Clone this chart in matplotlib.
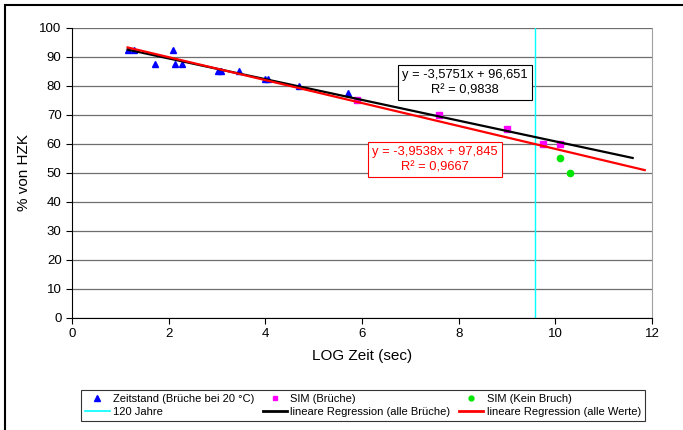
import matplotlib.pyplot as plt
from matplotlib.lines import Line2D
from matplotlib.patches import Rectangle

plt.rcParams['font.family'] = ['Liberation Sans', 'DejaVu Sans']

# Zeitstandversuche (Brüche bei 20 °C)
zeit_x = [1.15, 1.29, 1.72, 2.08, 2.14, 2.28, 3.03, 3.09, 3.45, 4.00, 4.06, 4.69, 5.71]
zeit_y = [92.5, 92.5, 87.5, 92.5, 87.5, 87.5, 85.0, 85.0, 85.0, 82.5, 82.5, 80.0, 77.5]

# SIM-Versuche mit Bruch
sim_x = [5.89, 7.59, 9.00, 9.74, 10.09]
sim_y = [75.0, 70.0, 65.0, 60.0, 60.0]

# SIM-Versuche ohne Bruch
kein_x = [10.09, 10.31]
kein_y = [55.0, 50.0]

# 120 Jahre in LOG(sec)
jahre_120 = 9.578

# Regressionsgeraden (Steigung, Achsenabschnitt, R², x-Bereich)
reg_bruch = (-3.5751, 96.651, 0.9838, [1.15, 11.6])
reg_alle = (-3.9538, 97.845, 0.9667, [1.15, 11.85])


def fmt(v, n):
    return f"{v:.{n}f}".replace('.', ',')


def gleichung(reg):
    m, b, r2, _ = reg
    return f"y = {fmt(m, 4)}x + {fmt(b, 3)}\nR² = {fmt(r2, 4)}"


fig = plt.figure(figsize=(6.83, 4.30), dpi=100)
ax = fig.add_axes([0.1054, 0.2605, 0.8492, 0.6744])

# Rahmen um das gesamte Diagramm
fig.patches.append(Rectangle((5 / 683, -0.05), 1.0, 1 - 5 / 430 + 0.05,
                             transform=fig.transFigure, fill=False,
                             edgecolor='black', linewidth=1.5))

ax.set_xlim(0, 12)
ax.set_ylim(0, 100)
ax.set_xticks(range(0, 13, 2))
ax.set_yticks(range(0, 101, 10))
ax.yaxis.grid(True, color='#6e6e6e', linewidth=0.9)
ax.set_axisbelow(True)
ax.spines['right'].set_color('#a0a0a0')
ax.spines['top'].set_visible(False)
ax.tick_params(direction='out', length=4, labelsize=9.5, width=0.8)

ax.axvline(jahre_120, color='#00FFFF', linewidth=1.0, zorder=2)

ax.plot(zeit_x, zeit_y, linestyle='none', marker='^', color='#0000FF',
        markersize=5, zorder=3)
ax.plot(sim_x, sim_y, linestyle='none', marker='s', color='#FF00FF',
        markersize=4.3, zorder=3)
ax.plot(kein_x, kein_y, linestyle='none', marker='o', color='#00E600',
        markersize=4.5, zorder=3)

for reg, col in [(reg_bruch, 'black'), (reg_alle, '#FF0000')]:
    m, b, _, xr = reg
    ax.plot(xr, [m * x + b for x in xr], color=col, linewidth=1.6, zorder=4)

ax.text(8.13, 81.1, gleichung(reg_bruch), ha='center', va='center',
        fontsize=9.3, color='black', linespacing=1.35, zorder=5,
        bbox=dict(boxstyle='square,pad=0.3', facecolor='white',
                  edgecolor='black', linewidth=0.8))
ax.text(7.51, 54.6, gleichung(reg_alle), ha='center', va='center',
        fontsize=9.3, color='#FF0000', linespacing=1.35, zorder=5,
        bbox=dict(boxstyle='square,pad=0.3', facecolor='white',
                  edgecolor='#FF0000', linewidth=0.8))

ax.set_xlabel('LOG Zeit (sec)', fontsize=11, labelpad=6)
ax.set_ylabel('% von HZK', fontsize=11, labelpad=6)

handles = [
    Line2D([], [], linestyle='none', marker='^', color='#0000FF', markersize=4),
    Line2D([], [], color='#00FFFF', linewidth=1.2),
    Line2D([], [], linestyle='none', marker='s', color='#FF00FF', markersize=3.5),
    Line2D([], [], color='black', linewidth=2),
    Line2D([], [], linestyle='none', marker='o', color='#00E600', markersize=3.5),
    Line2D([], [], color='#FF0000', linewidth=2),
]
labels = ['Zeitstand (Brüche bei 20 °C)', '120 Jahre',
          'SIM (Brüche)', 'lineare Regression (alle Brüche)',
          'SIM (Kein Bruch)', 'lineare Regression (alle Werte)']
leg = fig.legend(handles, labels, ncol=3, loc='center',
                 bbox_to_anchor=(363 / 683, 1 - 405.5 / 430),
                 fontsize=8, frameon=True, fancybox=False,
                 edgecolor='black', handlelength=2.2, handletextpad=0.3,
                 columnspacing=0.75, labelspacing=0.25, borderpad=0.35)
leg.get_frame().set_linewidth(0.8)

fig.savefig('out.png', dpi=100)
